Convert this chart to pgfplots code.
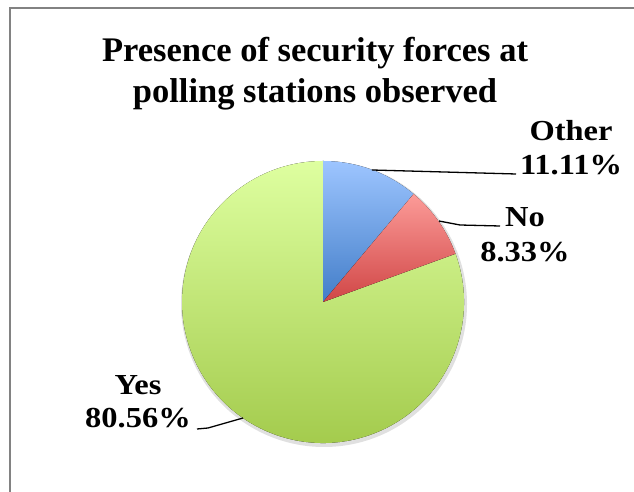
\documentclass[border=0pt]{standalone}
\usepackage{pgfplots}
\pgfplotsset{compat=1.18}
\usepackage{pgfplotstable}
\usepackage{fontspec}
\setmainfont{Liberation Serif}
\newfontfamily\labelfont[FakeStretch=1.12]{Liberation Serif}
\definecolor{blueT}{RGB}{157,197,255}
\definecolor{blueB}{RGB}{66,125,200}
\definecolor{redT}{RGB}{252,155,152}
\definecolor{redB}{RGB}{208,70,70}
\definecolor{greenT}{RGB}{222,255,160}
\definecolor{greenB}{RGB}{160,200,72}
\definecolor{frameC}{RGB}{130,130,130}
% category, percent
\pgfplotstableread{
label   value
Other   11.11
No      8.33
Yes     80.56
}\piedata
\begin{document}
\begin{tikzpicture}
\pgfplotstablegetelem{0}{value}\of\piedata \let\vOther\pgfplotsretval
\pgfplotstablegetelem{1}{value}\of\piedata \let\vNo\pgfplotsretval
\pgfplotstablegetelem{2}{value}\of\piedata \let\vYes\pgfplotsretval
\pgfmathsetmacro\aA{90}
\pgfmathsetmacro\aB{90-3.6*\vOther}
\pgfmathsetmacro\aC{\aB-3.6*\vNo}
\pgfmathsetmacro\aD{\aC-3.6*\vYes}
\begin{axis}[
  x=1pt, y=1pt, scale only axis,
  xmin=0, xmax=634, ymin=0, ymax=492,
  hide axis, clip=false,
]
% frame
\draw[frameC, line width=1.5pt] (axis cs:10,0) -- (axis cs:10,484) -- (axis cs:634,484);
% soft shadow
\fill[black!12] (axis cs:324,188) circle[radius=143pt];
\fill[white] (axis cs:323,190) circle[radius=141pt];
% slices
\fill[top color=greenT, bottom color=greenB] (axis cs:323,190) -- ++(\aC:141pt) arc[start angle=\aC, end angle=\aD, radius=141pt] -- cycle;
\fill[top color=blueT, bottom color=blueB] (axis cs:323,190) -- ++(\aA:141pt) arc[start angle=\aA, end angle=\aB, radius=141pt] -- cycle;
\fill[top color=redT, bottom color=redB] (axis cs:323,190) -- ++(\aB:141pt) arc[start angle=\aB, end angle=\aC, radius=141pt] -- cycle;
% leader lines
\draw[black, line width=1.3pt] (axis cs:372,322) -- (axis cs:516,318);
\draw[black, line width=1.3pt] (axis cs:439,271) -- (axis cs:460,267) -- (axis cs:500,266);
\draw[black, line width=1.3pt] (axis cs:197,63) -- (axis cs:208,64) -- (axis cs:243,74);
% title
\node[anchor=base, font=\fontsize{34.5}{40}\selectfont\bfseries] at (axis cs:315,430) {Presence of security forces at};
\node[anchor=base, font=\fontsize{34.5}{40}\selectfont\bfseries] at (axis cs:315,389) {polling stations observed};
% labels
\node[anchor=base, font=\labelfont\fontsize{29}{33}\selectfont\bfseries] at (axis cs:571,351) {Other};
\node[anchor=base, font=\labelfont\fontsize{29}{33}\selectfont\bfseries] at (axis cs:571,317) {11.11\%};
\node[anchor=base, font=\labelfont\fontsize{29}{33}\selectfont\bfseries] at (axis cs:525,265) {No};
\node[anchor=base, font=\labelfont\fontsize{29}{33}\selectfont\bfseries] at (axis cs:525,230) {8.33\%};
\node[anchor=base, font=\labelfont\fontsize{29}{33}\selectfont\bfseries] at (axis cs:138,97) {Yes};
\node[anchor=base, font=\labelfont\fontsize{29}{33}\selectfont\bfseries] at (axis cs:138,64) {80.56\%};
\end{axis}
\pgfresetboundingbox
\path (0,0) rectangle (634pt,492pt);
\end{tikzpicture}
\end{document}
